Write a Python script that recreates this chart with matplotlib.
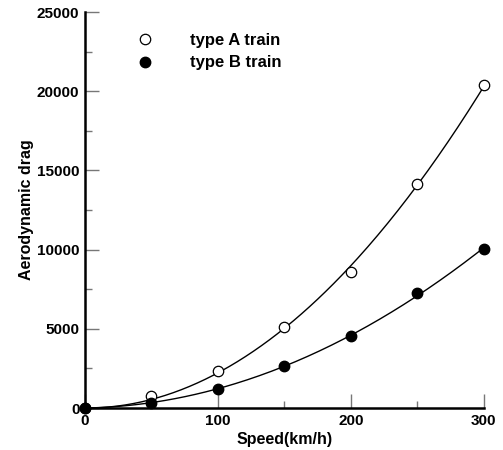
import numpy as np
import matplotlib
matplotlib.use("Agg")
import matplotlib.pyplot as plt
from matplotlib.ticker import MultipleLocator

speed = [0, 50, 100, 150, 200, 250, 300]
drag_a = [0, 760, 2340, 5130, 8600, 14140, 20400]
drag_b = [0, 300, 1180, 2650, 4560, 7240, 10040]
labels = ["type A train", "type B train"]

plt.rcParams['font.family'] = ['Liberation Sans', 'DejaVu Sans']

fig = plt.figure(figsize=(5.03, 4.5), dpi=100)
ax = fig.add_axes([0.169, 0.0933, 0.793, 0.880])

vs = np.linspace(0, 300, 200)
v = np.array(speed, dtype=float)
for ys in (drag_a, drag_b):
    A = np.column_stack([v, v ** 2])
    coef, *_ = np.linalg.lstsq(A, np.array(ys, dtype=float), rcond=None)
    ax.plot(vs, coef[0] * vs + coef[1] * vs ** 2, color='black', lw=1.0, zorder=2)

ax.plot(speed, drag_a, 'o', mfc='white', mec='black', mew=0.9, ms=7.5,
        clip_on=False, zorder=3, label=labels[0])
ax.plot(speed, drag_b, 'o', mfc='black', mec='black', ms=7.5,
        clip_on=False, zorder=3, label=labels[1])

ax.set_xlim(0, 300)
ax.set_ylim(0, 25000)
ax.xaxis.set_major_locator(MultipleLocator(100))
ax.xaxis.set_minor_locator(MultipleLocator(50))
ax.yaxis.set_major_locator(MultipleLocator(5000))
ax.yaxis.set_minor_locator(MultipleLocator(2500))

for s in ('top', 'right'):
    ax.spines[s].set_visible(False)
for s in ('left', 'bottom'):
    ax.spines[s].set_linewidth(1.8)

ax.tick_params(which='major', direction='in', length=10, width=1, color='#777777',
               labelsize=11, pad=4)
ax.tick_params(which='minor', direction='in', length=5, width=1, color='#777777')
for lab in ax.get_xticklabels() + ax.get_yticklabels():
    lab.set_fontweight('bold')

ax.set_xlabel("Speed(km/h)", fontsize=11.5, fontweight='bold', labelpad=3)
ax.set_ylabel("Aerodynamic drag", fontsize=11.5, fontweight='bold', labelpad=2)

leg = ax.legend(loc='upper left', bbox_to_anchor=(0.07, 0.985), frameon=False,
                prop={'weight': 'bold', 'size': 12}, handletextpad=1.7,
                labelspacing=0.45)

fig.savefig("out.png", dpi=100)
